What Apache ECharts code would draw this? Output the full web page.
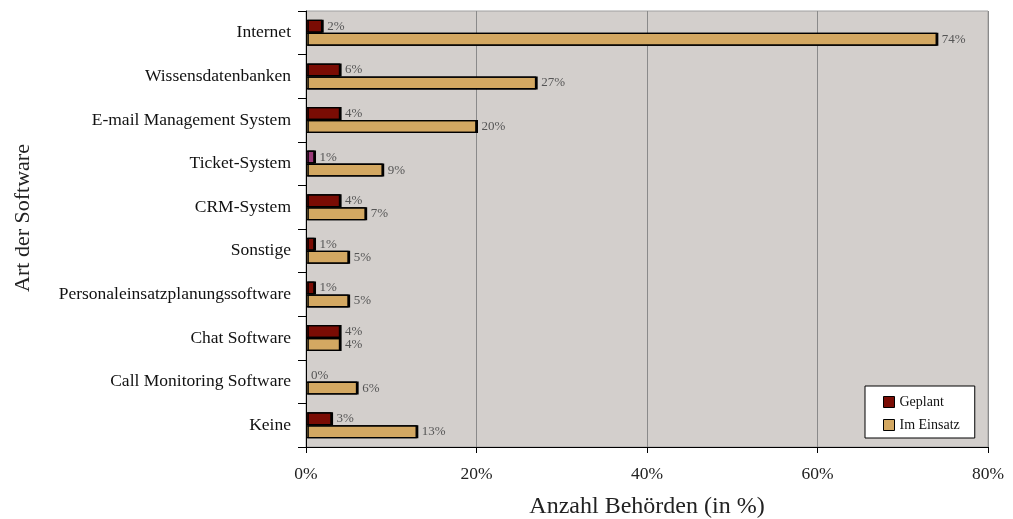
<!DOCTYPE html>
<html><head><meta charset="utf-8">
<script src="https://cdn.jsdelivr.net/npm/echarts@6/dist/echarts.min.js"></script>
<style>html,body{margin:0;padding:0;background:#fff}#c{width:1013px;height:519px}</style>
</head><body><div id="c"></div>
<script>
var categories = ['Internet','Wissensdatenbanken','E-mail Management System','Ticket-System','CRM-System','Sonstige','Personaleinsatzplanungssoftware','Chat Software','Call Monitoring Software','Keine'];
var planValues = [1.9, 4, 4, 1, 4, 1, 1, 4, 0, 3];
var planLabels = ['2%','6%','4%','1%','4%','1%','1%','4%','0%','3%'];
var useValues = [74, 27, 20, 9, 7, 5, 5, 4, 6, 13];
var useLabels = ['74%','27%','20%','9%','7%','5%','5%','4%','6%','13%'];
var xTicks = [0, 20, 40, 60, 80];

var FONT = '"Liberation Serif", "DejaVu Serif", serif';
var planColor = '#7A0C04', useColor = '#D3A862', ticketColor = '#9A3A78';

var barStyle = function (c) {
  return {color: c, borderColor: '#000', borderWidth: 1.3,
          shadowColor: '#000', shadowBlur: 0, shadowOffsetX: 1.5, shadowOffsetY: 0};
};
var zeroStyle = {borderWidth: 0, shadowOffsetX: 0, shadowColor: 'rgba(0,0,0,0)'};
var planItem = function (v, i) {
  var st;
  if (v === 0) st = zeroStyle;
  else if (categories[i] === 'Ticket-System') st = {color: ticketColor};
  return {value: v, itemStyle: st};
};
var useItem = function (v) {
  return {value: v, itemStyle: v === 0 ? zeroStyle : undefined};
};

var chart = echarts.init(document.getElementById('c'));
chart.setOption({
  animation: false,
  textStyle: {fontFamily: FONT},
  grid: {left: 306, right: 25, top: 11, bottom: 72, outerBoundsMode: 'none', containLabel: false,
         show: true, backgroundColor: '#D3CFCC', borderColor: '#A0A0A0', borderWidth: 1},
  legend: {
    orient: 'vertical', left: 865, top: 386, padding: [9, 15, 6, 18],
    backgroundColor: '#fff', borderColor: '#000', borderWidth: 1,
    itemWidth: 11, itemHeight: 11, itemGap: 9, icon: 'rect',
    textStyle: {fontFamily: FONT, fontSize: 14, color: '#111'},
    data: [{name: 'Geplant', itemStyle: {color: planColor, borderColor: '#000', borderWidth: 1}},
           {name: 'Im Einsatz', itemStyle: {color: useColor, borderColor: '#000', borderWidth: 1}}]
  },
  xAxis: {
    type: 'value', min: xTicks[0], max: xTicks[xTicks.length - 1], interval: 20,
    name: 'Anzahl Behörden (in %)', nameLocation: 'middle', nameGap: 48,
    nameTextStyle: {fontFamily: FONT, fontSize: 24, color: '#222'},
    axisLine: {show: true, lineStyle: {color: '#000', width: 1}},
    axisTick: {show: true, length: 6, lineStyle: {color: '#000'}},
    axisLabel: {formatter: '{value}%', fontFamily: FONT, fontSize: 17.5, color: '#222', margin: 18},
    splitLine: {show: true, lineStyle: {color: '#8A8A8A', width: 1}}
  },
  yAxis: {
    type: 'category', data: categories, inverse: true,
    name: 'Art der Software', nameLocation: 'middle', nameGap: 272, nameRotate: 90,
    nameTextStyle: {fontFamily: FONT, fontSize: 22, color: '#222', padding: [0, 0, 0, 22]},
    axisLine: {show: true, lineStyle: {color: '#000', width: 1}},
    axisTick: {show: true, length: 8, lineStyle: {color: '#000'}},
    axisLabel: {fontFamily: FONT, fontSize: 17.5, color: '#111', margin: 15, padding: [6, 0, 0, 0]},
    splitLine: {show: false}
  },
  series: [
    {
      name: 'Geplant', type: 'bar', barWidth: 13, barGap: '0%',
      data: planValues.map(planItem),
      itemStyle: barStyle(planColor),
      label: {show: true, position: 'right', distance: 5, fontFamily: FONT, fontSize: 13, color: '#555',
              formatter: function (p) { return planLabels[p.dataIndex]; }},
      z: 3
    },
    {
      name: 'Im Einsatz', type: 'bar', barWidth: 13, barGap: '0%',
      data: useValues.map(useItem),
      itemStyle: barStyle(useColor),
      label: {show: true, position: 'right', distance: 5, fontFamily: FONT, fontSize: 13, color: '#555',
              formatter: function (p) { return useLabels[p.dataIndex]; }},
      z: 3
    }
  ]
});
</script></body></html>
